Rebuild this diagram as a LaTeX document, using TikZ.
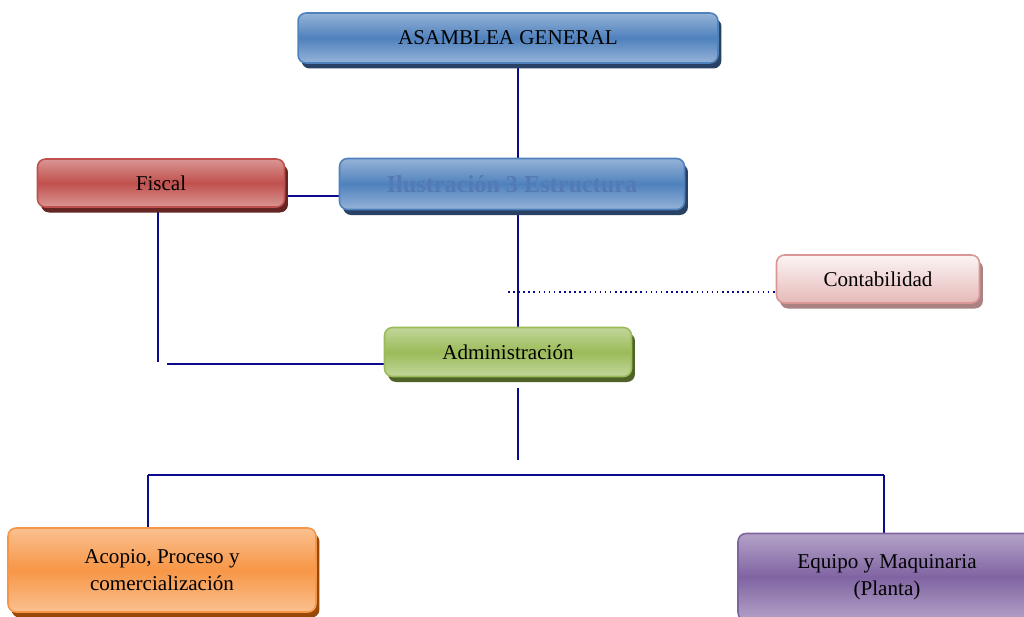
\documentclass[tikz,border=0pt]{standalone}
\usepackage{fontspec}
\setmainfont{Liberation Serif}
\usepackage{tikz}
\usetikzlibrary{positioning, shadows, calc}
\pgfdeclarelayer{background}
\pgfsetlayers{background,main}
\definecolor{navyline}{RGB}{10,10,140}
\definecolor{bluebase}{RGB}{79,129,189}
\definecolor{bluelight}{RGB}{149,179,215}
\definecolor{blueshade}{RGB}{40,65,100}
\definecolor{bluetext}{RGB}{84,122,180}
\definecolor{redbase}{RGB}{192,80,77}
\definecolor{redlight}{RGB}{218,150,148}
\definecolor{redshade}{RGB}{100,37,35}
\definecolor{pinkbase}{RGB}{230,185,184}
\definecolor{pinkedge}{RGB}{217,150,148}
\definecolor{pinkshade}{RGB}{170,130,130}
\definecolor{greenbase}{RGB}{155,187,89}
\definecolor{greenlight}{RGB}{195,214,155}
\definecolor{greenshade}{RGB}{79,98,40}
\definecolor{orangebase}{RGB}{247,150,70}
\definecolor{orangelight}{RGB}{250,192,144}
\definecolor{orangeshade}{RGB}{152,72,7}
\definecolor{purplebase}{RGB}{128,100,162}
\definecolor{purplelight}{RGB}{179,162,199}
\definecolor{purpleshade}{RGB}{63,49,81}
\tikzset{
    orgbox/.style={rectangle, rounded corners=0.16cm, inner sep=0pt, align=center,
      line width=0.9pt, font=\fontsize{12}{15.5}\selectfont},
    glossy/.style n args={3}{draw=#1, top color=#2, bottom color=#2, middle color=#1,
      drop shadow={shadow xshift=0.07cm, shadow yshift=-0.11cm, fill=#3, opacity=1}},
    conn/.style={draw=navyline, line width=0.9pt},
}

\begin{document}
\begin{tikzpicture}[x=0.02cm, y=-0.02cm]
    \clip (0,0) rectangle (1024,616);
    \useasboundingbox (0,0) rectangle (1024,616);

    \node[orgbox, glossy={bluebase}{bluelight}{blueshade}, minimum width=8.4cm, minimum height=1cm] (asamblea) at (508,38) {ASAMBLEA GENERAL};
    \node[orgbox, glossy={bluebase}{bluelight}{blueshade}, minimum width=6.9cm, minimum height=1.02cm,
      font=\fontsize{13.8}{15}\selectfont\bfseries, text=bluetext] (ilus) at (512,184) {\raisebox{-0.06cm}{Ilustración 3 Estructura}};
    \node[orgbox, glossy={redbase}{redlight}{redshade}, minimum width=4.94cm, minimum height=0.96cm] (fiscal) at (161,183) {Fiscal};
    \node[orgbox, draw=pinkedge, top color=white!85!pinkbase, bottom color=pinkbase,
      drop shadow={shadow xshift=0.07cm, shadow yshift=-0.11cm, fill=pinkshade, opacity=1},
      minimum width=4.06cm, minimum height=0.96cm] (contab) at (878,279) {Contabilidad};
    \node[orgbox, glossy={greenbase}{greenlight}{greenshade}, minimum width=4.94cm, minimum height=0.98cm] (admin) at (508,352) {Administración};
    \node[orgbox, glossy={orangebase}{orangelight}{orangeshade}, minimum width=6.16cm, minimum height=1.68cm] (acopio) at (162,570) {Acopio, Proceso y\\comercialización};
    \node[orgbox, glossy={purplebase}{purplelight}{purpleshade}, minimum width=5.96cm, minimum height=1.74cm] (equipo) at (887,577) {Equipo y Maquinaria\\(Planta)};

    \coordinate (spine) at (518,0);
    \coordinate (fiscalend) at (158,362);
    \coordinate (admleft) at (167,364);
    \coordinate (dotstart) at (508,292);
    \coordinate (adminlow) at (518,388);
    \coordinate (buscenter) at (518,460);
    \coordinate (busleft) at (148,475);
    \coordinate (busright) at (884,475);

    \begin{pgfonlayer}{background}
      \draw[conn] (asamblea.south -| spine) -- (ilus.north -| spine);
      \draw[conn] (ilus.south -| spine) -- (admin.north -| spine);
      \draw[conn] ([yshift=-0.26cm]fiscal.east) -- ([yshift=-0.26cm]fiscal.east -| ilus.west);
      \draw[conn] (fiscal.south -| fiscalend) -- (fiscalend);
      \draw[conn] (admleft) -- (admleft -| admin.west);
      \draw[conn, dotted] (dotstart) -- (dotstart -| contab.west);
      \draw[conn] (adminlow) -- (buscenter);
      \draw[conn] (busleft) -- (busright);
      \draw[conn] (busleft) -- (busleft |- acopio.north);
      \draw[conn] (busright) -- (busright |- equipo.north);
    \end{pgfonlayer}
\end{tikzpicture}
\end{document}
